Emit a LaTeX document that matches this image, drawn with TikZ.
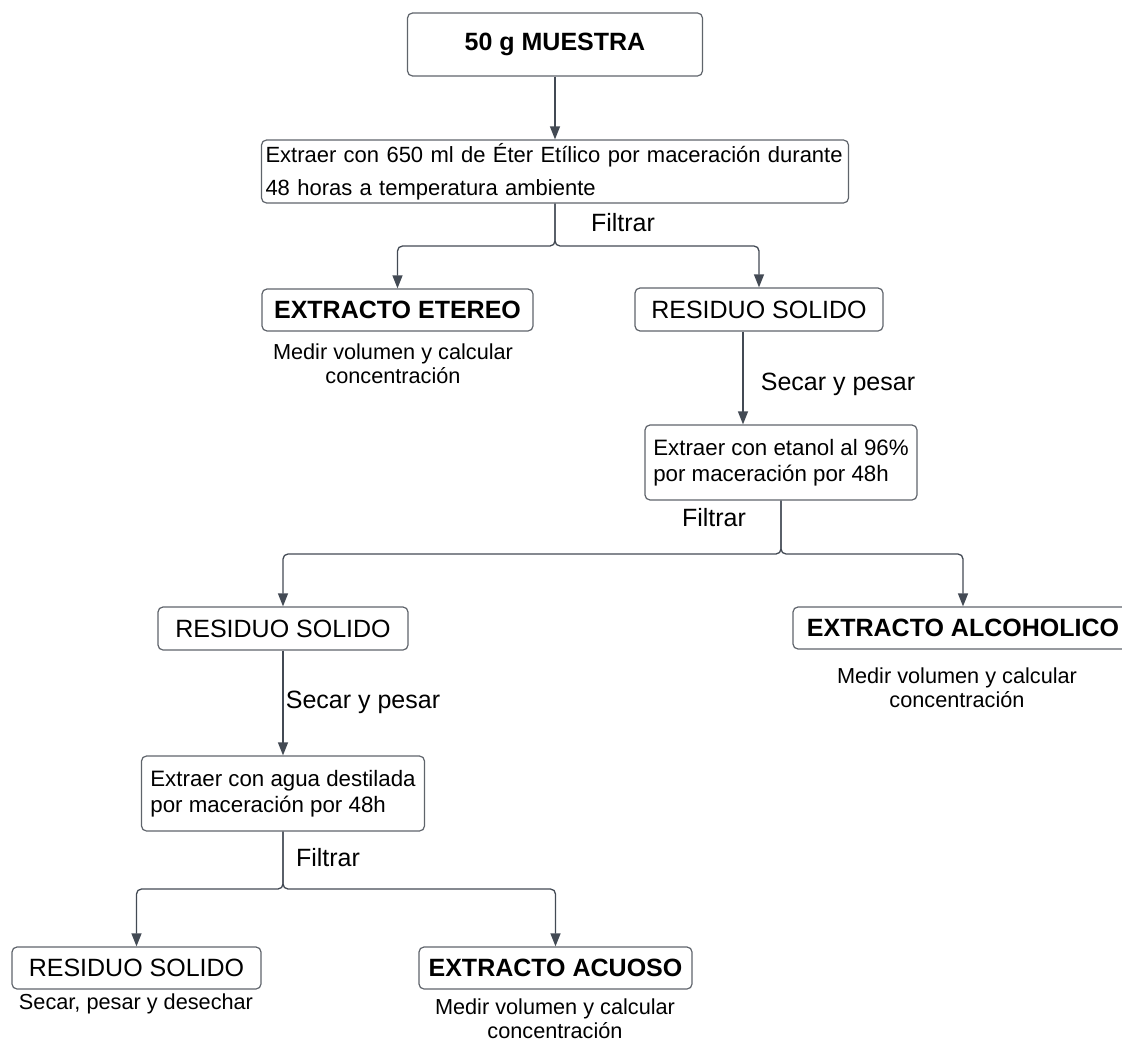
\documentclass[tikz,border=0pt]{standalone}
\usepackage{fontspec}
\setmainfont{Liberation Sans}
\usetikzlibrary{arrows.meta}
\definecolor{boxgray}{HTML}{5F646B}
\definecolor{linegray}{HTML}{434A54}
\newcommand{\lblfont}{\fontsize{25}{30}\selectfont}
\newcommand{\txtfont}{\fontsize{22.3}{25.5}\selectfont}

\begin{document}
\begin{tikzpicture}[x=1pt,y=-1pt,
   box/.style={draw=boxgray,line width=1.2pt,rounded corners=5pt,inner sep=0pt,font=\lblfont},
   hdr/.style={box,font=\lblfont\bfseries},
   stepbox/.style={box,font=\txtfont,align=left,inner xsep=6pt},
   note/.style={align=center,inner sep=0pt,font=\fontsize{21.7}{24}\selectfont},
   lbl/.style={inner sep=0pt,font=\lblfont},
   arr/.style={draw=linegray,line width=1.3pt,rounded corners=5pt,
      -{Triangle[width=10pt,length=13pt]}}]
\useasboundingbox (0,0) rectangle (1122,1041);

\node[hdr,minimum width=295,minimum height=63] (muestra) at (555,44.5) {50 g MUESTRA};
\node[stepbox,inner xsep=4pt,minimum width=587,minimum height=63,text width=579,
   font=\fontsize{22}{33}\selectfont] (eter) at (555,171.5)
   {Extraer con 650 ml de Éter Etílico por maceración durante\\48 horas a temperatura ambiente};
\node[hdr,minimum width=271,minimum height=42] (etereo) at (397.5,310) {EXTRACTO ETEREO};
\node[box,minimum width=248,minimum height=43] (res1) at (759,309.5) {RESIDUO SOLIDO};
\node[stepbox,minimum width=272,minimum height=75] (etanol) at (781,462.5)
   {Extraer con etanol al 96\%\\por maceración por 48h};
\node[box,minimum width=250,minimum height=43] (res2) at (283,628.5) {RESIDUO SOLIDO};
\node[hdr,minimum width=340,minimum height=42] (alcoh) at (963,628) {EXTRACTO ALCOHOLICO};
\node[stepbox,minimum width=283,minimum height=75] (agua) at (283,793.5)
   {Extraer con agua destilada\\por maceración por 48h};
\node[box,minimum width=249,minimum height=42] (res3) at (136.5,968) {RESIDUO SOLIDO};
\node[hdr,minimum width=273,minimum height=42] (acuoso) at (555.5,968) {EXTRACTO ACUOSO};

% notas bajo los extractos
\node[note] (medir1) at (393,363.5) {Medir volumen y calcular\\concentración};
\node[note] (medir2) at (957,687.5) {Medir volumen y calcular\\concentración};
\node[note] (medir3) at (555,1018.5) {Medir volumen y calcular\\concentración};
\node[note] (desechar) at (136,1004) {Secar, pesar y desechar};

\node[lbl] (filtrar1) at (623,223) {Filtrar};
\node[lbl] (secar1) at (838,384) {Secar y pesar};
\node[lbl] (filtrar2) at (714,518) {Filtrar};
\node[lbl] (secar2) at (363,702) {Secar y pesar};
\node[lbl] (filtrar3) at (328,858) {Filtrar};

\coordinate (f1) at (555,246);
\coordinate (f2) at (781,554);
\coordinate (f3) at (283,889);

\draw[arr] (muestra.south) -- (muestra.south |- eter.north);
\draw[arr] (eter.south) -- (f1) -| (etereo.north);
\draw[arr] (eter.south) -- (f1) -| (res1.north);
\draw[arr] ([xshift=-16pt]res1.south) -- ([xshift=-16pt]res1.south |- etanol.north);
\draw[arr] (etanol.south) -- (f2) -| (res2.north);
\draw[arr] (etanol.south) -- (f2) -| (alcoh.north);
\draw[arr] (res2.south) -- (res2.south |- agua.north);
\draw[arr] (agua.south) -- (f3) -| (res3.north);
\draw[arr] (agua.south) -- (f3) -| (acuoso.north);
\end{tikzpicture}
\end{document}
